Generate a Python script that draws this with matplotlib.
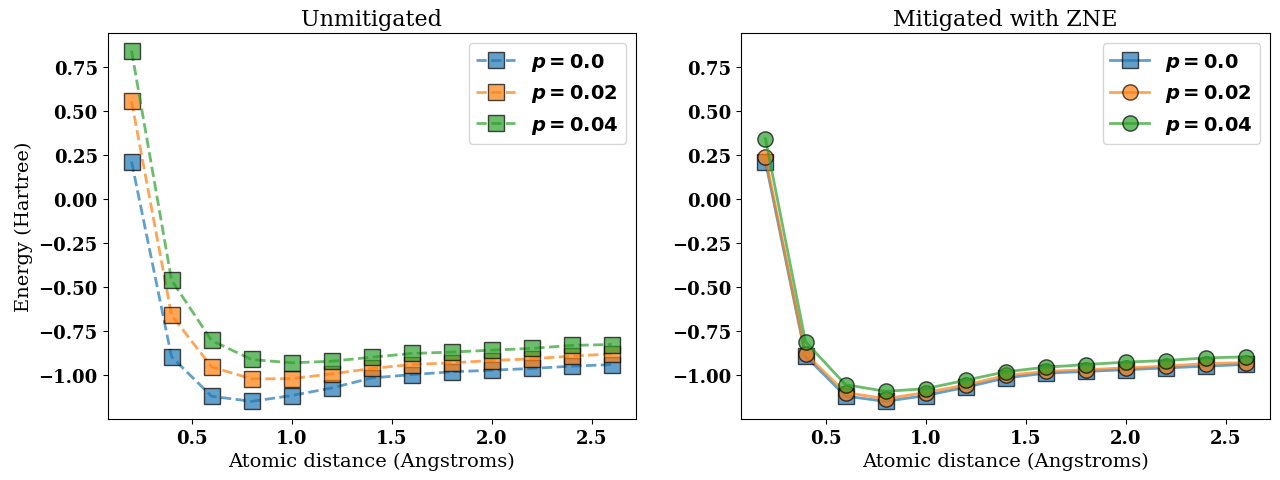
import matplotlib
matplotlib.use('Agg')
import matplotlib.pyplot as plt

distances = [0.2, 0.4, 0.6, 0.8, 1.0, 1.2, 1.4, 1.6, 1.8, 2.0, 2.2, 2.4, 2.6]
noise_labels = [r'$\boldsymbol{p = 0.0}$', r'$\boldsymbol{p = 0.02}$', r'$\boldsymbol{p = 0.04}$']

# unmitigated energies
raw_p0 = [0.212, -0.897, -1.121, -1.150, -1.117, -1.074, -1.017, -0.998, -0.982, -0.973, -0.963, -0.950, -0.941]
raw_p2 = [0.555, -0.661, -0.954, -1.022, -1.021, -0.994, -0.963, -0.941, -0.931, -0.918, -0.908, -0.893, -0.880]
raw_p4 = [0.842, -0.462, -0.804, -0.912, -0.931, -0.922, -0.899, -0.878, -0.870, -0.859, -0.849, -0.832, -0.827]

# ZNE mitigated energies
zne_p0 = [0.212, -0.893, -1.120, -1.150, -1.117, -1.070, -1.017, -0.990, -0.980, -0.970, -0.960, -0.950, -0.940]
zne_p2 = [0.237, -0.880, -1.100, -1.135, -1.100, -1.057, -1.003, -0.980, -0.970, -0.960, -0.950, -0.935, -0.930]
zne_p4 = [0.342, -0.811, -1.055, -1.093, -1.078, -1.030, -0.982, -0.956, -0.941, -0.927, -0.918, -0.903, -0.897]

plt.rcParams['font.family'] = 'serif'
plt.rcParams['font.serif'] = ['DejaVu Serif']

fig, (ax1, ax2) = plt.subplots(1, 2, figsize=(12.8, 4.81), dpi=100)

for ys, lab in zip([raw_p0, raw_p2, raw_p4], noise_labels):
    ax1.plot(distances, ys, 's--', lw=2, ms=11, alpha=0.7, mec='black', label=lab)

markers = ['s', 'o', 'o']
for ys, lab, m in zip([zne_p0, zne_p2, zne_p4], noise_labels, markers):
    ax2.plot(distances, ys, marker=m, ls='-', lw=2, ms=11, alpha=0.7, mec='black', label=lab)

ax2.set_ylim(ax1.get_ylim())

ax1.set_title('Unmitigated', fontsize=16)
ax2.set_title('Mitigated with ZNE', fontsize=16)
ax1.set_ylabel('Energy (Hartree)', fontsize=14)
ax1.set_xlabel('Atomic distance (Angstroms)', fontsize=14)
ax2.set_xlabel('Atomic distance (Angstroms)', fontsize=14)

for ax in (ax1, ax2):
    for t in ax.get_xticklabels() + ax.get_yticklabels():
        t.set_fontweight('bold')
        t.set_fontsize(13)
    ax.legend(fontsize=14)

plt.subplots_adjust(left=0.084, right=0.992, top=0.929, bottom=0.127, wspace=0.2)
plt.savefig('out.png')
